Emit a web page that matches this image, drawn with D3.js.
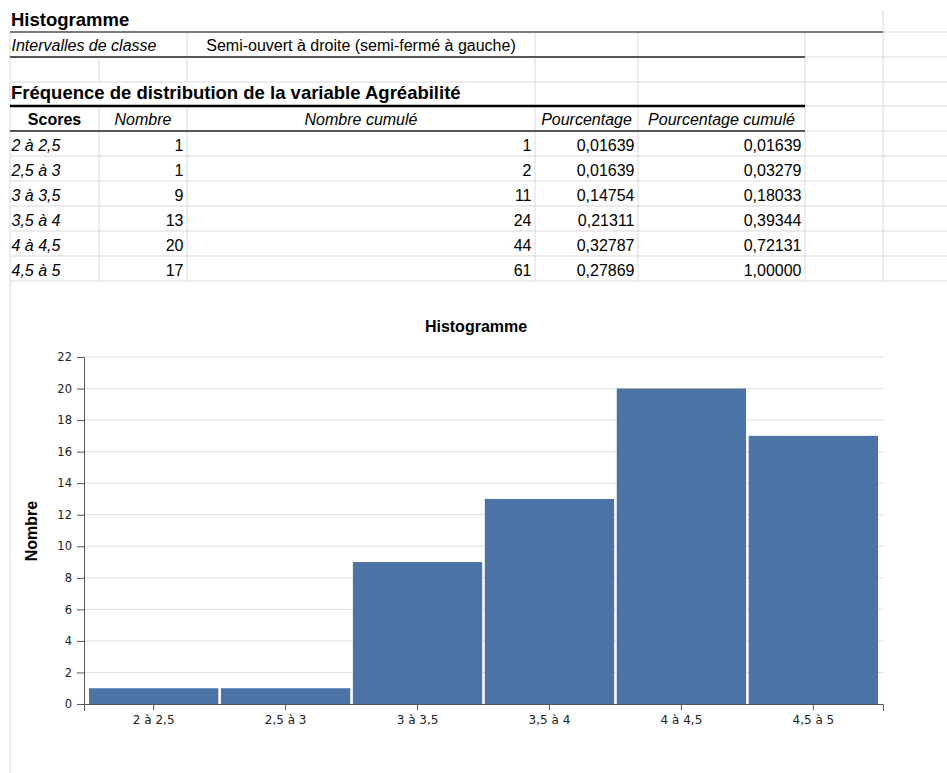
<!DOCTYPE html>
<html>
<head>
<meta charset="utf-8">
<script src="https://cdn.jsdelivr.net/npm/d3@7"></script>
<style>
  html, body { margin: 0; padding: 0; background: #fff; }
  svg { display: block; }
</style>
</head>
<body>
<svg id="chart" width="947" height="773"></svg>
<script>
// ---- Data ----
const scores = ["2 à 2,5", "2,5 à 3", "3 à 3,5", "3,5 à 4", "4 à 4,5", "4,5 à 5"];
const counts = [1, 1, 9, 13, 20, 17];
const cumCounts = [1, 2, 11, 24, 44, 61];
const percentages = ["0,01639", "0,01639", "0,14754", "0,21311", "0,32787", "0,27869"];
const cumPercentages = ["0,01639", "0,03279", "0,18033", "0,39344", "0,72131", "1,00000"];
const headers = ["Scores", "Nombre", "Nombre cumulé", "Pourcentage", "Pourcentage cumulé"];
const yTicks = [0, 2, 4, 6, 8, 10, 12, 14, 16, 18, 20, 22];

(function () {
const svg = d3.select("#chart");
const SANS = "'Liberation Sans', Arial, Helvetica, sans-serif";

// ---- Spreadsheet table ----
const colX = [10, 99, 187, 535, 638, 805, 883, 947];
const light = "#d9d9d9";
const tbl = svg.append("g");

function hline(yy, x1, x2, color, w) {
  tbl.append("line").attr("x1", x1).attr("x2", x2).attr("y1", yy).attr("y2", yy)
    .attr("stroke", color).attr("stroke-width", w);
}
function vline(xx, y1, y2) {
  tbl.append("line").attr("x1", xx).attr("x2", xx).attr("y1", y1).attr("y2", y2)
    .attr("stroke", light).attr("stroke-width", 1);
}

// vertical grid lines
vline(10, 32, 773);
vline(99, 57, 82); vline(99, 106, 281);
vline(187, 32, 82); vline(187, 106, 281);
vline(535, 32, 281);
vline(638, 32, 281);
vline(805, 32, 281);
vline(883, 10, 281);

// horizontal lines
const dataRowTops = scores.map((s, i) => 131 + 25 * i);
[82].concat(dataRowTops.slice(1), [281]).forEach(yy => hline(yy, 10, 947, light, 1));
hline(32, 883, 947, light, 1);
hline(57, 805, 947, light, 1);
hline(106, 805, 947, light, 1);
hline(131, 805, 947, light, 1);
hline(32, 10, 883, "#7a7a7a", 2);
hline(57, 10, 805, "#555", 2);
hline(106, 10, 805, "#000", 2.5);
hline(131, 10, 805, "#555", 2);

function txt(xx, yy, s, opts) {
  opts = opts || {};
  tbl.append("text").attr("x", xx).attr("y", yy).text(s)
    .attr("font-family", SANS)
    .attr("font-size", opts.size || 16)
    .attr("font-weight", opts.bold ? "bold" : "normal")
    .attr("font-style", opts.italic ? "italic" : "normal")
    .attr("text-anchor", opts.anchor || "start")
    .attr("fill", "#000");
}

txt(11, 26, "Histogramme", {bold: true, size: 18.5});
txt(11.5, 51, "Intervalles de classe", {italic: true});
txt(361, 51, "Semi-ouvert à droite (semi-fermé à gauche)", {anchor: "middle"});
txt(11, 99, "Fréquence de distribution de la variable Agréabilité", {bold: true, size: 18.5});

headers.forEach((h, i) => {
  const cx = (colX[i] + colX[i + 1]) / 2;
  txt(cx, 125, h, {anchor: "middle", bold: i === 0, italic: i !== 0});
});

scores.forEach((s, i) => {
  const by = dataRowTops[i] + 19.5;
  txt(11.5, by, s, {italic: true});
  txt(colX[2] - 3.5, by, String(counts[i]), {anchor: "end"});
  txt(colX[3] - 3.5, by, String(cumCounts[i]), {anchor: "end"});
  txt(colX[4] - 3.5, by, percentages[i], {anchor: "end"});
  txt(colX[5] - 3.5, by, cumPercentages[i], {anchor: "end"});
});

// ---- Histogram chart ----
const pLeft = 84, pRight = 883, pTop = 357, pBottom = 704;
const x = d3.scaleBand().domain(scores).range([pLeft, pRight])
  .paddingInner(0.02).paddingOuter(0.038);
const y = d3.scaleLinear().domain([0, 22]).range([pBottom, pTop]);

const ch = svg.append("g");

// chart title
ch.append("text").attr("x", 476).attr("y", 332).attr("text-anchor", "middle")
  .attr("font-family", SANS).attr("font-size", 16).attr("font-weight", "bold")
  .attr("fill", "#000").text("Histogramme");

// gridlines
ch.append("g").selectAll("line").data(yTicks.filter(d => d > 0)).join("line")
  .attr("x1", pLeft).attr("x2", pRight)
  .attr("y1", d => y(d)).attr("y2", d => y(d))
  .attr("stroke", "#dedede").attr("stroke-width", 1);

// bars
ch.append("g").selectAll("rect").data(scores).join("rect")
  .attr("x", d => x(d))
  .attr("width", x.bandwidth())
  .attr("y", (d, i) => y(counts[i]))
  .attr("height", (d, i) => y(0) - y(counts[i]))
  .attr("fill", "#4c73a6");

const TICKFONT = "'DejaVu Sans', Verdana, sans-serif";

// y axis
const yAxis = ch.append("g").attr("transform", `translate(${pLeft},0)`)
  .call(d3.axisLeft(y).tickValues(yTicks).tickSize(7).tickSizeOuter(0).tickPadding(5));
yAxis.selectAll("path, line").attr("stroke", "#555");
yAxis.attr("font-size", null).attr("font-family", null);
yAxis.selectAll("text").style("font-family", TICKFONT).style("font-size", "11.5px").attr("fill", "#222");

// x axis
const xAxis = ch.append("g").attr("transform", `translate(0,${pBottom})`)
  .call(d3.axisBottom(x).tickSize(6).tickSizeOuter(7).tickPadding(5));
xAxis.selectAll("path, line").attr("stroke", "#555");
xAxis.attr("font-size", null).attr("font-family", null);
xAxis.selectAll("text").style("font-family", TICKFONT).style("font-size", "12px").attr("fill", "#222");

// y axis title
ch.append("text")
  .attr("transform", "translate(36.5,531) rotate(-90)")
  .attr("text-anchor", "middle")
  .attr("font-family", SANS).attr("font-size", 16).attr("font-weight", "bold")
  .attr("fill", "#000").text("Nombre");
})();
</script>
</body>
</html>
